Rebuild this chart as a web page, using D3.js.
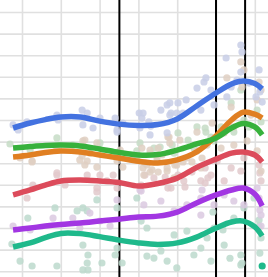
<!DOCTYPE html>
<html><head><meta charset="utf-8">
<script src="https://cdn.jsdelivr.net/npm/d3@7"></script>
<style>html,body{margin:0;padding:0;background:#fff;overflow:hidden}svg{display:block}</style>
</head><body>
<svg id="chart" width="268" height="277"></svg>
<script>
// ---- data ----
const xTicks = [2015, 2016, 2017, 2018, 2019, 2020, 2021];
const yTicks = [0, 10, 20, 30, 40, 50, 60, 70, 80, 90, 100, 110, 120];
const eventDates = [2017.51, 2020.0, 2020.75];

const smoothX = [2014.77, 2015.21, 2015.6, 2016.0, 2016.5, 2017.0, 2017.5, 2018.0, 2018.5, 2019.0, 2019.5, 2020.0, 2020.4, 2020.7, 2021.0, 2021.19];
const blueTrend   = [66.3, 68.6, 70.2, 71.4, 71.4, 69.5, 68.1, 67.5, 67.9, 70.5, 76.5, 82.5, 86.7, 88.1, 86.9, 84.4];
const orangeTrend = [52.9, 53.8, 55.0, 55.6, 55.2, 53.8, 52.4, 50.9, 50.1, 51.5, 55.2, 62.6, 70.0, 73.6, 72.7, 70.9];
const greenTrend  = [57.0, 57.7, 58.2, 58.4, 58.0, 56.6, 55.0, 53.8, 54.0, 56.1, 58.9, 61.7, 66.3, 68.4, 66.8, 63.1];
const redTrend    = [35.3, 37.6, 39.9, 41.8, 42.2, 41.8, 41.1, 39.4, 40.6, 43.1, 48.0, 51.9, 54.7, 55.2, 53.8, 50.6];
const purpleTrend = [19.1, 20.0, 20.9, 21.6, 22.3, 23.2, 24.1, 25.1, 25.5, 27.4, 31.6, 35.3, 37.6, 38.5, 35.7, 30.2];
const tealTrend   = [11.2, 13.1, 15.5, 17.5, 17.4, 16.0, 14.4, 13.1, 12.4, 13.1, 15.8, 20.0, 22.8, 23.2, 20.5, 16.3];

const bluePoints = [[2014.77,67.7],[2014.90,65.4],[2015.13,69.1],[2015.90,72.3],[2015.93,70.0],[2016.55,74.6],[2016.57,67.7],[2016.68,73.2],[2017.01,70.9],[2017.40,70.9],[2017.45,65.4],[2017.60,68.6],[2018.02,73.2],[2018.09,70.9],[2018.27,69.1],[2018.32,67.2],[2018.74,77.0],[2018.84,73.2],[2019.23,79.3],[2019.51,84.8],[2019.69,87.6],[2019.74,89.5],[2019.87,83.9],[2020.26,98.7],[2020.39,85.3],[2020.54,88.5],[2020.64,104.7],[2020.67,101.5],[2020.64,92.2],[2020.85,87.1],[2021.11,93.2],[2021.13,83.0],[2021.19,78.3],[2021.03,80.7],[2020.28,80.7],[2019.95,77.0],[2019.61,74.6],[2018.99,73.2],[2018.58,74.6],[2016.83,66.3],[2017.45,64.4],[2018.12,73.2],[2018.04,66.3],[2018.30,63.1],[2018.81,77.9],[2018.81,72.3],[2019.02,77.9],[2019.15,73.2],[2018.74,64.0]];
const orangePoints = [[2015.26,51.0],[2014.95,52.4],[2015.90,57.0],[2016.57,60.3],[2016.55,53.3],[2016.75,54.7],[2016.68,51.0],[2017.45,51.0],[2016.62,60.7],[2016.93,59.4],[2017.53,56.1],[2017.86,52.4],[2018.17,50.1],[2018.48,52.4],[2018.81,59.4],[2019.07,60.7],[2018.76,62.1],[2018.61,53.8],[2017.60,48.2],[2018.30,45.9],[2018.79,62.1],[2019.51,64.4],[2019.90,68.6],[2020.28,89.5],[2020.39,76.0],[2020.64,96.9],[2020.72,93.2],[2020.67,85.3],[2020.90,72.3],[2021.11,87.6],[2021.16,83.9],[2021.06,79.3],[2020.46,66.8],[2020.21,64.0],[2017.96,52.4],[2018.22,49.2],[2018.48,51.0],[2018.74,46.4],[2018.99,49.2],[2019.25,52.4],[2019.51,55.7],[2018.14,44.5],[2018.92,43.2],[2019.61,47.8],[2019.77,58.4],[2020.13,57.0],[2020.46,58.4],[2020.80,60.3],[2021.06,55.7],[2021.16,46.4],
  [2018.09,57.0],[2018.30,56.1],[2018.51,57.0],[2018.12,47.8],[2018.35,46.9],[2018.51,45.9],[2018.74,47.8],[2018.94,49.2],[2019.15,50.6],[2019.38,50.6],[2019.64,52.4],[2015.26,50.6],[2016.49,51.5],[2016.62,49.2],[2016.93,48.2],[2017.45,53.8]];
const greenPoints = [[2014.69,58.9],[2015.90,61.7],[2017.01,59.4],[2018.04,59.4],[2018.30,54.7],[2018.56,57.5],[2018.87,58.4],[2019.51,66.8],[2019.74,64.4],[2020.13,66.8],[2020.39,77.9],[2020.64,83.9],[2020.72,70.0],[2020.85,66.8],[2021.06,74.6],[2021.16,69.1],[2020.46,64.4],[2019.87,62.1],[2017.96,55.7],[2018.40,57.0],[2018.92,54.7],[2019.43,57.0],[2019.95,60.3],[2015.21,56.1],[2016.31,58.4],[2019.02,64.0],[2019.28,60.7],[2019.72,66.3]];
const redPoints = [[2015.28,39.9],[2015.13,33.9],[2015.90,44.5],[2016.68,44.5],[2017.01,44.5],[2017.19,41.8],[2017.45,38.5],[2016.93,38.5],[2017.35,44.5],[2018.07,39.9],[2018.40,43.2],[2018.84,38.5],[2019.17,41.8],[2019.61,41.8],[2019.87,44.5],[2020.03,51.0],[2020.39,47.8],[2020.64,46.4],[2020.72,52.4],[2021.11,49.2],[2021.16,41.8],[2020.21,41.8],
  [2018.17,44.5],[2018.69,43.6],[2019.02,44.5],[2019.38,45.9],[2019.72,47.8],[2019.79,43.2],[2019.20,39.0],[2018.76,38.5],[2019.72,40.8],[2015.90,45.5],[2016.93,36.7],[2016.11,39.9],[2021.13,45.5]];
const purplePoints = [[2014.77,20.9],[2015.21,19.1],[2015.80,24.6],[2016.31,24.6],[2016.49,20.0],[2017.01,23.2],[2017.27,20.9],[2017.45,33.0],[2016.75,26.9],[2018.07,37.1],[2018.14,30.7],[2018.58,32.5],[2018.92,27.9],[2019.25,30.7],[2019.61,33.9],[2019.95,30.7],[2020.21,35.3],[2020.46,32.5],[2020.72,30.7],[2021.06,38.5],[2021.11,33.9],[2021.16,26.0],[2021.16,20.9],[2019.61,26.0],[2018.04,37.6],[2019.64,37.6],[2021.13,28.3]];
const tealPoints = [[2014.74,12.6],[2014.95,4.7],[2015.26,2.4],[2015.15,24.6],[2015.85,29.3],[2015.90,2.4],[2016.42,27.9],[2016.57,29.3],[2016.68,27.9],[2016.57,12.1],[2016.70,7.5],[2016.68,3.8],[2016.57,0.6],[2016.70,0.6],[2016.93,33.0],[2017.06,3.8],[2017.40,7.5],[2017.45,10.7],[2017.58,3.8],[2017.45,29.3],[2017.96,33.9],[2018.07,23.2],[2018.22,20.0],[2018.22,7.0],[2018.40,6.1],[2018.58,9.4],[2018.74,4.7],[2018.99,1.5],[2018.92,16.8],[2019.25,18.6],[2019.43,7.5],[2019.61,10.7],[2019.77,15.4],[2019.95,20.0],[2019.87,4.7],[2020.21,12.1],[2020.46,24.6],[2020.64,7.5],[2020.64,2.9],[2020.72,29.3],[2020.98,33.9],[2021.11,23.7],[2021.11,20.9],[2021.16,15.4],
  [2021.13,8.4],[2020.36,6.0],[2020.67,3.8],[2019.92,27.4],[2020.18,19.1]];
const highlightPoints = [[2021.19,2.4]];

// ---- styling ----
const lineColor = {blue:"#4372e0", orange:"#e07f22", green:"#37b13c", red:"#dc4b5b", purple:"#a236e2", teal:"#1fb98b"};
const ptColor   = {blue:"#c8cee6", orange:"#dfcfc2", green:"#c5dcc6", red:"#e2c9cb", purple:"#dac9e1", teal:"#bcd9cd"};

const W = 268, H = 277;
const svg = d3.select("#chart");
const x = d3.scaleLinear().domain([2014.433, 2021.34]).range([0, W]);
const y = d3.scaleLinear().domain([-2.685, 125.56]).range([H, 0]);

// grid via axes
const gx = svg.append("g").attr("transform", `translate(0,${H})`)
  .call(d3.axisBottom(x).tickValues(xTicks).tickSize(-H).tickFormat(""));
const gy = svg.append("g")
  .call(d3.axisLeft(y).tickValues(yTicks).tickSize(-W).tickFormat(""));
[gx, gy].forEach(g => {
  g.select(".domain").remove();
  g.selectAll(".tick line").attr("stroke", "#e0e0e0").attr("stroke-width", 1.6);
});

// event lines
svg.append("g").selectAll("line").data(eventDates).join("line")
  .attr("x1", d => x(d)).attr("x2", d => x(d)).attr("y1", 0).attr("y2", H)
  .attr("stroke", "#000").attr("stroke-width", 2);

// points
const pts = {blue:bluePoints, orange:orangePoints, green:greenPoints, red:redPoints, purple:purplePoints, teal:tealPoints};
["teal", "purple", "red", "green", "orange", "blue"].forEach(name => {
  svg.append("g").selectAll("circle").data(pts[name]).join("circle")
    .attr("cx", d => x(d[0])).attr("cy", d => y(d[1])).attr("r", 3.6)
    .attr("fill", ptColor[name]).attr("fill-opacity", 0.85);
});
svg.append("g").selectAll("circle").data(highlightPoints).join("circle")
  .attr("cx", d => x(d[0])).attr("cy", d => y(d[1])).attr("r", 3.6)
  .attr("fill", lineColor.teal);

// trend lines
const trends = {blue:blueTrend, orange:orangeTrend, green:greenTrend, red:redTrend, purple:purpleTrend, teal:tealTrend};
const line = d3.line().x(d => x(d[0])).y(d => y(d[1])).curve(d3.curveCatmullRom.alpha(0.5));
["teal", "purple", "red", "orange", "green", "blue"].forEach(name => {
  svg.append("path")
    .datum(smoothX.map((xv, i) => [xv, trends[name][i]]))
    .attr("d", line).attr("fill", "none")
    .attr("stroke", lineColor[name]).attr("stroke-width", 5.5)
    .attr("stroke-linecap", "butt").attr("stroke-linejoin", "round");
});
</script>
</body></html>
